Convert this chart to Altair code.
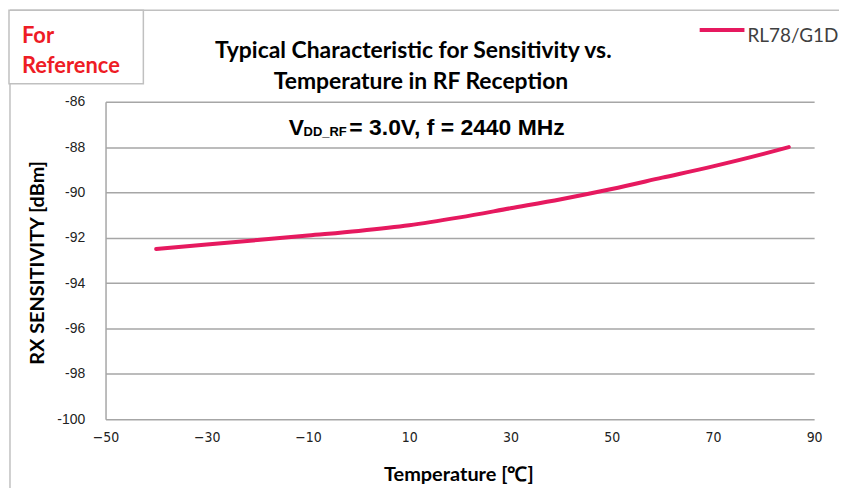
import altair as alt
import pandas as pd

# ---- data ----
temps = [-40, -30, -20, -10, 0, 10, 20, 30, 40, 50, 60, 70, 80, 85]
sens = [-92.5, -92.3, -92.1, -91.9, -91.7, -91.45, -91.1, -90.7, -90.3, -89.85, -89.35, -88.85, -88.3, -88.0]
series_name = "RL78/G1D"
x_ticks = [-50, -30, -10, 10, 30, 50, 70, 90]
y_ticks = [-100, -98, -96, -94, -92, -90, -88, -86]

title_lines = ["Typical Characteristic for Sensitivity vs.", "Temperature in RF Reception"]
x_title = "Temperature [℃]"
y_title = "RX SENSITIVITY [dBm]"

LINE_COLOR = "#E6195F"
GRID = "#a6a6a6"
TXT = "#000000"
CAL = "Lato"

df = pd.DataFrame({"T": temps, "S": sens, "series": series_name})

W, H = 712, 319
OX, OY = 106, 101  # page position of the plot origin

line = alt.Chart(df).mark_line(color=LINE_COLOR, strokeWidth=4, interpolate="monotone", strokeCap="round").encode(
    x=alt.X("T:Q", scale=alt.Scale(domain=[-50, 90], nice=False),
            axis=alt.Axis(values=x_ticks, title=None, grid=False, ticks=False, domain=False,
                          labelFlush=False,
                          labelExpr="replace(toString(datum.value), '-', '\u2212')",
                          labelFont="DejaVu Sans Condensed", labelFontSize=14, labelColor="#222",
                          labelPadding=11)),
    y=alt.Y("S:Q", scale=alt.Scale(domain=[-100, -86], nice=False),
            axis=alt.Axis(values=y_ticks, title=None, grid=True, gridColor=GRID, gridWidth=1.5,
                          ticks=False, domain=True, domainColor=GRID, domainWidth=1.5,
                          labelExpr="toString(datum.value)",
                          labelFont="Liberation Sans", labelFontSize=14, labelColor="#222",
                          labelPadding=21)),
)

def one():
    return alt.Chart(pd.DataFrame({"a": [0]}))

def txt(text, px, py, size, weight="normal", color=TXT, font=CAL, align="left", angle=0):
    kw = dict(text=text, fontSize=size, fontWeight=weight, color=color, font=font, align=align)
    if angle:
        kw["angle"] = angle
    return one().mark_text(**kw).encode(x=alt.value(px - OX), y=alt.value(py - OY))

# outer frame (top and left edges visible) and "For Reference" box
frame_top = one().mark_rule(color="#c0c0c0", strokeWidth=1.5).encode(
    x=alt.value(10 - OX), x2=alt.value(850 - OX), y=alt.value(9 - OY))
frame_left = one().mark_rule(color="#c0c0c0", strokeWidth=1.5).encode(
    x=alt.value(10 - OX), y=alt.value(9 - OY), y2=alt.value(500 - OY))
refbox = one().mark_rect(fill="white", stroke="#c0c0c0", strokeWidth=1.5).encode(
    x=alt.value(9 - OX), x2=alt.value(144 - OX), y=alt.value(9 - OY), y2=alt.value(83 - OY))

legend_line = one().mark_rule(color=LINE_COLOR, strokeWidth=4).encode(
    x=alt.value(703 - OX), x2=alt.value(748 - OX), y=alt.value(29 - OY))

texts = [
    txt("For", 22, 35, 22, "bold", "#ee1c25"),
    txt("Reference", 22, 65, 22, "bold", "#ee1c25"),
    txt(title_lines[0], 216, 50, 23, "bold"),
    txt(title_lines[1], 275, 81, 23, "bold"),
    txt(series_name, 751, 35, 19, "normal", "#404040"),
    txt("V", 290, 127, 23, "bold", font="Liberation Sans"),
    txt("DD_RF", 305, 131, 13, "bold", font="Liberation Sans"),
    txt("= 3.0V, f = 2440 MHz", 351, 127, 23, "bold", font="Liberation Sans"),
    txt(x_title, 461, 476, 20, "bold", align="center"),
    txt(y_title, 38, 263, 20, "bold", align="center", angle=270),
]

chart = alt.layer(frame_top, frame_left, refbox, line, legend_line, *texts).properties(
    width=W, height=H,
    autosize=alt.AutoSizeParams(type="none"),
    padding={"left": OX - 8, "top": OY - 8, "right": 25, "bottom": 68},
).configure_view(stroke=None)

chart.save("out.html", embed_options={"renderer": "svg", "actions": False})
